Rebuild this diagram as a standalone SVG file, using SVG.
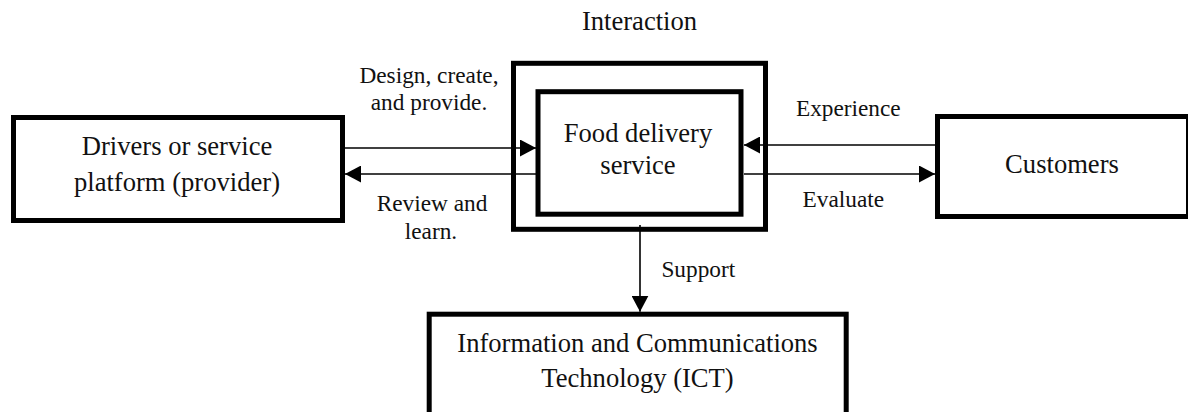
<svg xmlns="http://www.w3.org/2000/svg" width="1188" height="412" viewBox="0 0 1188 412">
<style>
.box{fill:#fff;stroke:#000;stroke-width:5}
text{font-family:'Liberation Serif','Times New Roman',serif;fill:#111;text-anchor:middle}
.node{font-size:26.6px}
.lbl{font-size:23.3px}
.edge{stroke:#000;stroke-width:1.6;fill:none}
</style>
<defs>
<marker id="arr" markerUnits="userSpaceOnUse" markerWidth="16" markerHeight="17" viewBox="0 0 16 17" refX="16" refY="8.5" orient="auto">
<path d="M0,0 L16,8.5 L0,17 Z" fill="#000"/>
</marker>
</defs>
<rect width="1188" height="412" fill="#fff"/>
<g id="interaction">
<rect class="box" x="513.5" y="63.3" width="252" height="166"/>
<text class="node" x="639.5" y="30">Interaction</text>
</g>
<g id="food">
<rect class="box" x="538" y="91.7" width="203" height="122.5"/>
<text class="node" x="638" y="141.7">Food delivery</text>
<text class="node" x="638" y="174">service</text>
</g>
<g id="provider">
<rect class="box" x="13.5" y="117.5" width="329" height="103"/>
<text class="node" x="177" y="155">Drivers or service</text>
<text class="node" x="177" y="190.7">platform (provider)</text>
</g>
<g id="customers">
<rect class="box" x="937.5" y="116.5" width="251" height="100"/>
<text class="node" x="1062" y="173.3">Customers</text>
</g>
<g id="ict">
<rect class="box" x="429.2" y="314.2" width="417" height="120"/>
<text class="node" x="637.5" y="351.7">Information and Communications</text>
<text class="node" x="637.5" y="386.7">Technology (ICT)</text>
</g>
<g id="connectors">
<line class="edge" x1="345" y1="148" x2="536" y2="148" marker-end="url(#arr)"/>
<line class="edge" x1="536" y1="174" x2="345" y2="174" marker-end="url(#arr)"/>
<line class="edge" x1="935" y1="145" x2="744" y2="145" marker-end="url(#arr)"/>
<line class="edge" x1="744" y1="174" x2="935" y2="174" marker-end="url(#arr)"/>
<line class="edge" x1="640" y1="225" x2="640" y2="311.7" marker-end="url(#arr)"/>
<text class="lbl" x="429" y="83">Design, create,</text>
<text class="lbl" x="429" y="110">and provide.</text>
<text class="lbl" x="432" y="210.7">Review and</text>
<text class="lbl" x="431" y="239.3">learn.</text>
<text class="lbl" x="848.3" y="116">Experience</text>
<text class="lbl" x="843.3" y="206.7">Evaluate</text>
<text class="lbl" x="698.3" y="276.7">Support</text>
</g>
</svg>
